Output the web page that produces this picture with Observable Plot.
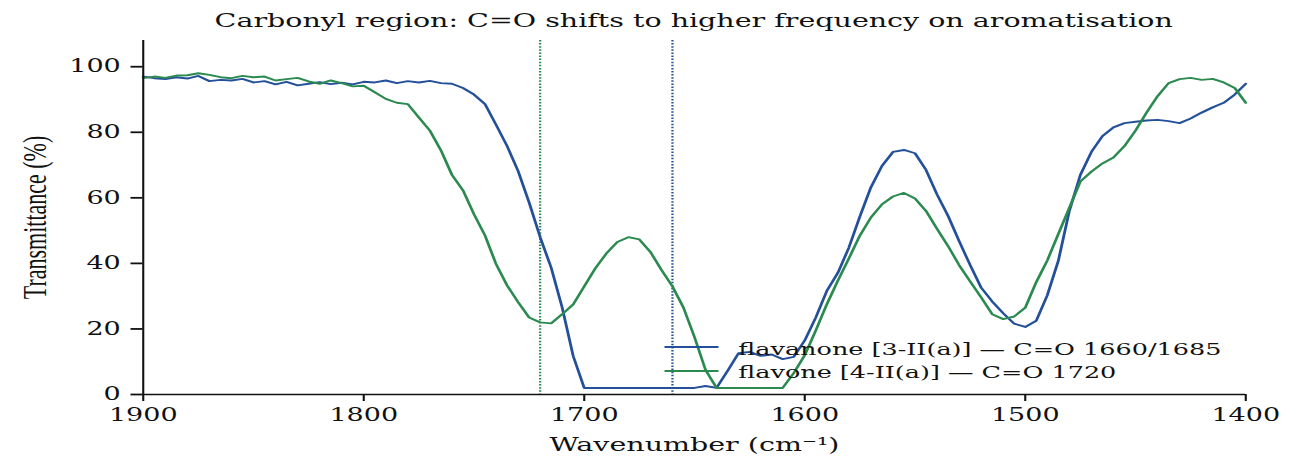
<!DOCTYPE html>
<html>
<head>
<meta charset="utf-8">
<script src="https://cdn.jsdelivr.net/npm/d3@7"></script>
<script src="https://cdn.jsdelivr.net/npm/@observablehq/plot@0.6"></script>
<style>
  html, body { margin: 0; padding: 0; background: #fff; overflow: hidden; }
  #wrap { position: relative; width: 870px; height: 470px; transform: scaleX(1.5); transform-origin: 0 0; font-family: "DejaVu Serif", serif; color: #111; }
  #title { height: 30px; box-sizing: border-box; padding: 9px 40px 0 95px; text-align: center; font-size: 19px; line-height: 22px; white-space: nowrap; }
  .legend-row { position: absolute; height: 24px; display: flex; align-items: center; font-size: 17px; white-space: nowrap; }
  .legend-row .swatch { width: 36px; height: 0; border-top: 2px solid; margin-right: 13.5px; }
  .legend-row .label { position: relative; top: 1.5px; }
  #chart svg [aria-label="y-axis tick"] path { stroke-width: 1.8; }
  #chart svg [aria-label="x-axis tick"] path { stroke-width: 1.4; }
</style>
</head>
<body>
<div id="wrap">
  <div id="title"></div>
  <div id="chart"></div>
</div>
<script>
const titleText = "Carbonyl region: C=O shifts to higher frequency on aromatisation";
const xLabel = "Wavenumber (cm\u207B\u00B9)";
const yLabel = "Transmittance (%)";

const xDomain = [1900, 1400];
const yDomain = [0, 108];
const xTicks = [1900, 1800, 1700, 1600, 1500, 1400];
const yTicks = [0, 20, 40, 60, 80, 100];

const seriesNames = ["flavanone [3-II(a)] \u2014 C=O 1660/1685", "flavone [4-II(a)] \u2014 C=O 1720"];
const seriesColors = ["#24509a", "#2b8a50"];
const peakPositions = [1660, 1720];   // dotted markers: flavanone, flavone

const wavenumbers = [
  1900,1895,1890,1885,1880,1875,1870,1865,1860,1855,
  1850,1845,1840,1835,1830,1825,1820,1815,1810,1805,
  1800,1795,1790,1785,1780,1775,1770,1765,1760,1755,
  1750,1745,1740,1735,1730,1725,1720,1715,1710,1705,
  1700,1695,1690,1685,1680,1675,1670,1665,1660,1655,
  1650,1645,1640,1635,1630,1625,1620,1615,1610,1605,
  1600,1595,1590,1585,1580,1575,1570,1565,1560,1555,
  1550,1545,1540,1535,1530,1525,1520,1515,1510,1505,
  1500,1495,1490,1485,1480,1475,1470,1465,1460,1455,
  1450,1445,1440,1435,1430,1425,1420,1415,1410,1405,
  1400
];

const flavanoneT = [
  97.0,96.5,96.2,96.8,96.4,97.2,95.6,96.0,95.8,96.3,
  95.2,95.6,94.6,95.4,94.3,94.8,95.3,94.7,95.1,94.6,
  95.4,95.2,95.8,95.0,95.6,95.2,95.7,95.0,94.8,93.5,
  91.5,88.6,82.3,75.8,68.2,58.6,48.0,38.7,26.5,11.7,
  2.0,2.0,2.0,2.0,2.0,2.0,2.0,2.0,2.0,2.0,
  2.0,2.6,2.0,7.2,12.6,13.0,11.8,12.2,10.8,11.5,
  16.5,23.5,31.6,37.1,44.8,54.3,63.2,69.7,74.0,74.6,
  73.6,68.5,61.0,54.5,46.8,39.5,32.6,28.4,24.8,21.6,
  20.6,22.5,30.3,40.8,56.0,67.0,74.0,78.8,81.5,82.8,
  83.2,83.6,83.8,83.4,82.8,84.2,86.0,87.6,89.0,91.5,
  94.8
];

const flavoneT = [
  96.5,97.0,96.6,97.3,97.4,98.0,97.5,96.8,96.5,97.2,
  96.8,97.0,95.8,96.2,96.6,95.5,94.8,95.8,95.0,94.0,
  94.2,92.2,90.2,89.0,88.6,84.5,80.5,74.5,67.0,62.3,
  55.0,48.5,39.8,33.3,28.2,23.5,22.0,21.7,24.5,27.5,
  33.0,38.5,43.0,46.5,48.0,47.3,43.5,38.0,33.0,26.5,
  17.5,7.5,2.0,2.0,2.0,2.0,2.0,2.0,2.0,6.5,
  12.0,19.5,27.5,34.7,41.5,48.5,54.0,58.0,60.4,61.5,
  59.8,56.0,50.5,45.3,39.5,34.5,29.6,24.5,23.0,23.8,
  26.5,34.3,40.9,49.0,57.0,65.0,68.0,70.5,72.3,75.8,
  80.5,86.0,91.0,95.0,96.2,96.6,96.0,96.3,95.2,93.5,
  89.0
];

// Build tables from the arrays
const seriesValues = [flavanoneT, flavoneT];
const rows = [];
seriesValues.forEach((vals, s) => {
  wavenumbers.forEach((wn, i) => rows.push({series: seriesNames[s], wn, t: vals[i]}));
});
const peaks = peakPositions.map((wn, s) => ({series: seriesNames[s], wn}));

document.getElementById("title").textContent = titleText;

const chart = Plot.plot({
  width: 870,
  height: 440,
  marginLeft: 95,
  marginRight: 40,
  marginTop: 10,
  marginBottom: 76,
  style: {fontFamily: "DejaVu Serif", fontSize: "18px", color: "#111", background: "white", overflow: "visible"},
  x: {domain: xDomain, ticks: xTicks, tickFormat: d => String(d), tickSize: 7, tickPadding: 7, label: null},
  y: {domain: yDomain, ticks: yTicks, tickSize: 8, tickPadding: 7, label: null},
  color: {domain: seriesNames, range: seriesColors},
  marks: [
    Plot.ruleX(peaks, {x: "wn", stroke: "series", strokeWidth: 1.5, strokeDasharray: "1.5,1.6"}),
    Plot.line(rows, {x: "wn", y: "t", z: "series", stroke: "series", strokeWidth: 1.9}),
    Plot.ruleY([yDomain[0]], {stroke: "#111", strokeWidth: 1.6}),
    Plot.ruleX([xDomain[0]], {stroke: "#111", strokeWidth: 1.4}),
    Plot.text([xLabel], {frameAnchor: "bottom", dy: 56, fontSize: 19, fill: "#111"}),
    Plot.text([yLabel], {frameAnchor: "left", textAnchor: "middle", dx: -72, rotate: -90, fontSize: 22, fontFamily: "Liberation Serif", fill: "#111"})
  ]
});
document.getElementById("chart").appendChild(chart);

// Legend (inside the plot area, lower middle)
const wrap = document.getElementById("wrap");
const legendTops = [335, 358.7];
seriesNames.forEach((name, i) => {
  const row = document.createElement("div");
  row.className = "legend-row";
  row.style.left = "442.7px";
  row.style.top = legendTops[i] + "px";
  const sw = document.createElement("span");
  sw.className = "swatch";
  sw.style.borderTopColor = seriesColors[i];
  const lab = document.createElement("span");
  lab.className = "label";
  lab.textContent = name;
  row.appendChild(sw);
  row.appendChild(lab);
  wrap.appendChild(row);
});
</script>
</body>
</html>
